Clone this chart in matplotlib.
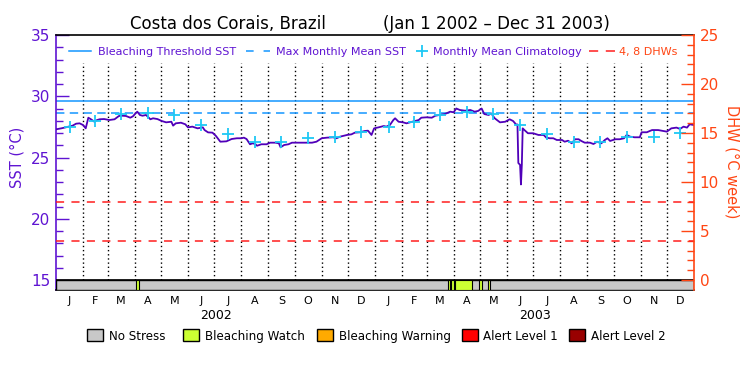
import numpy as np
import matplotlib.pyplot as plt
from matplotlib.lines import Line2D
from matplotlib.patches import Rectangle

# daily SST (days since Jan 1 2002)
sst_day = [0, 6, 11, 19, 23, 27, 31, 34, 37, 40, 44, 47, 50, 55, 61, 67, 72, 76, 80, 85,
           88, 91, 93, 96, 99, 103, 108, 111, 116, 121, 126, 132, 134, 137, 143, 148, 151,
           156, 162, 168, 170, 174, 179, 183, 188, 195, 201, 207, 212, 215, 218, 222, 225,
           228, 230, 235, 241, 245, 251, 255, 257, 261, 266, 270, 275, 281, 287, 293, 298,
           304, 310, 317, 321, 325, 333, 338, 342, 348, 353, 357, 361, 364, 369, 375, 378,
           382, 386, 388, 392, 397, 401, 405, 411, 415, 418, 424, 430, 434, 439, 445, 451,
           455, 458, 462, 468, 474, 479, 483, 487, 490, 495, 498, 502, 508, 514, 519, 523,
           527, 528, 529, 531, 532, 533, 534, 536, 540, 546, 552, 558, 561, 565, 569, 573,
           579, 582, 586, 590, 594, 598, 601, 605, 611, 615, 619, 624, 628, 631, 634, 640,
           645, 650, 653, 657, 662, 668, 670, 676, 682, 689, 695, 699, 704, 710, 714, 718,
           722, 725, 730]
sst_val = [27.30, 27.38, 27.46, 27.60, 27.76, 27.79, 27.65, 27.38, 28.25, 28.12, 27.92, 28.06,
           28.12, 28.14, 28.06, 28.12, 28.39, 28.41, 28.39, 28.25, 28.36, 28.60, 28.74, 28.47,
           28.41, 28.47, 28.12, 28.20, 28.14, 27.98, 27.87, 27.92, 27.60, 27.79, 27.84, 27.71,
           27.46, 27.52, 27.38, 27.46, 27.24, 27.05, 27.03, 26.76, 26.29, 26.32, 26.51, 26.57,
           26.57, 26.62, 26.51, 26.08, 26.16, 26.10, 25.96, 26.08, 26.08, 26.21, 26.21, 26.16,
           25.83, 26.02, 26.08, 26.21, 26.21, 26.21, 26.21, 26.21, 26.29, 26.57, 26.62, 26.65,
           26.57, 26.70, 26.84, 26.89, 27.03, 27.06, 27.16, 27.19, 26.84, 27.38, 27.46, 27.57,
           27.52, 27.65, 28.06, 28.20, 27.92, 27.87, 27.79, 27.87, 27.98, 28.06, 28.25, 28.28,
           28.25, 28.41, 28.47, 28.55, 28.74, 28.69, 29.00, 28.88, 28.82, 28.88, 28.74, 28.80,
           29.00, 28.55, 28.47, 28.60, 28.20, 27.87, 27.92, 28.12, 27.98, 27.65, 27.70, 24.55,
           24.40, 22.80, 24.40, 27.38, 27.24, 26.98, 26.98, 26.84, 26.84, 26.62, 26.57, 26.57,
           26.43, 26.43, 26.29, 26.37, 26.16, 26.49, 26.49, 26.35, 26.21, 26.21, 26.10, 26.29,
           26.16, 26.43, 26.57, 26.35, 26.49, 26.49, 26.57, 26.84, 26.70, 26.65, 26.65, 27.06,
           27.06, 27.24, 27.24, 27.16, 27.11, 27.38, 27.44, 27.33, 27.52, 27.44, 27.71, 27.65]

# monthly mean climatology, Jan 2002 .. Dec 2003
clim_val = [27.46, 28.00, 28.53, 28.66, 28.44, 27.65, 26.89, 26.24, 26.24, 26.62, 26.70, 27.06,
            27.46, 27.92, 28.47, 28.69, 28.55, 27.65, 26.89, 26.29, 26.24, 26.65, 26.70, 27.03]

mmm = 28.65
threshold = 29.65
dhw_levels = [4, 8]

# bleaching watch periods in the status bar (days since Jan 1 2002)
watch_start = [92, 448, 452.5, 456, 484, 494]
watch_end = [95.5, 451, 455, 476.5, 487.5, 497]

month_labels = list('JFMAMJJASOND') * 2
year_labels = ['2002', '2003']

status_names = ['No Stress', 'Bleaching Watch', 'Bleaching Warning', 'Alert Level 1', 'Alert Level 2']
status_colors = ['#c8c8c8', '#ccff33', '#ffaa00', '#ff0000', '#990000']

purple = '#5f14d2'
line_purple = '#5000b9'
blue = '#1496ff'
cyan = '#1ec8f5'
red = '#ff1e1e'
orange = '#ff4614'

months = np.arange('2002-01', '2004-01', dtype='datetime64[M]')
month_start = (months.astype('datetime64[D]') - np.datetime64('2002-01-01')).astype(int)
month_end = np.append(month_start[1:], 730)
month_mid = (month_start + month_end) / 2.0


def fx(x):
    return x / 750.0


def fy(y):
    return 1 - y / 375.0


fig = plt.figure(figsize=(7.5, 3.75), dpi=100)
ax = fig.add_axes([fx(56), fy(290), 638 / 750, 255 / 375])
ybot = 15 - 10 / 12.25
ax.set_xlim(0, 730)
ax.set_ylim(ybot, 35)

# month dividers
ax.vlines(month_start[1:], 15, 32.7, colors='black', linestyles=(0, (1, 2)), lw=1, zorder=1)

ax.axhline(threshold, color=blue, lw=1.1, zorder=2)
ax.axhline(mmm, color=blue, lw=1.1, dashes=(5.5, 3.5), zorder=2)
ax.plot(sst_day, sst_val, color=line_purple, lw=1.3, zorder=4)
ax.plot(month_mid, clim_val, '+', color=cyan, ms=8, mew=1.3, zorder=5)

# status bar
ax.bar(0, 15 - ybot, width=730, bottom=ybot, align='edge', color=status_colors[0],
       edgecolor='black', lw=1, zorder=3)
ax.bar(watch_start, 15 - ybot, width=np.subtract(watch_end, watch_start), bottom=ybot,
       align='edge', color=status_colors[1], edgecolor='black', lw=0.8, zorder=3)
ax.axhline(15, color='black', lw=1.2, zorder=3)

ax.set_yticks([15, 20, 25, 30, 35])
ax.set_yticks([v for v in range(15, 36) if v % 5], minor=True)
ax.tick_params(axis='y', which='both', direction='in', color=purple, labelcolor=purple,
               width=1, labelsize=11, pad=4)
ax.tick_params(axis='y', which='major', length=9.5)
ax.tick_params(axis='y', which='minor', length=4.8)
ax.set_xticks(month_mid)
ax.set_xticklabels(month_labels)
ax.tick_params(axis='x', length=0, labelsize=8, pad=4)

ax.spines['left'].set_color(purple)
ax.spines['right'].set_visible(False)
for s in ['left', 'top', 'bottom']:
    ax.spines[s].set_linewidth(1.2)

ax2 = ax.twinx()
ax2.set_ylim((ybot - 15) * 1.25, 25)
for lvl in dhw_levels:
    ax2.axhline(lvl, color=red, lw=1.1, dashes=(5.3, 4.8), zorder=2)
ax2.set_yticks(range(0, 26, 5))
ax2.set_yticks([v for v in range(0, 26) if v % 5], minor=True)
ax2.tick_params(axis='y', which='both', direction='in', color=orange, labelcolor=orange,
                width=1, labelsize=11, pad=4)
ax2.tick_params(axis='y', which='major', length=9.5)
ax2.tick_params(axis='y', which='minor', length=4.8)
for s in ['left', 'top', 'bottom']:
    ax2.spines[s].set_visible(False)
ax2.spines['right'].set_color(orange)
ax2.spines['right'].set_linewidth(1.2)

# titles and axis labels
fig.text(fx(228), fy(29), 'Costa dos Corais, Brazil', ha='center', va='baseline', fontsize=12)
fig.text(fx(496.5), fy(29), '(Jan 1 2002 \u2013 Dec 31 2003)', ha='center', va='baseline', fontsize=12)
fig.text(fx(17.5), fy(157), 'SST (°C)', rotation=90, ha='center', va='center', color=purple, fontsize=10.5)
fig.text(fx(731.7), fy(161.5), 'DHW (°C week)', rotation=270, ha='center', va='center', color=orange, fontsize=10.5)
for lab, xc in zip(year_labels, [216, 535.5]):
    fig.text(fx(xc), fy(319.3), lab, ha='center', va='baseline', fontsize=9)

# top legend
fig.add_artist(Line2D([fx(69), fx(90.6)], [fy(51)] * 2, transform=fig.transFigure, color=blue, lw=1.1))
fig.text(fx(97.7), fy(55), 'Bleaching Threshold SST', color=purple, fontsize=8, va='baseline')
fig.add_artist(Line2D([fx(246), fx(270)], [fy(51)] * 2, transform=fig.transFigure, color=blue, lw=1.1,
                      dashes=(5, 6.5)))
fig.text(fx(276), fy(55), 'Max Monthly Mean SST', color=purple, fontsize=8, va='baseline')
fig.add_artist(Line2D([fx(422)], [fy(51)], transform=fig.transFigure, color=cyan, marker='+',
                      ms=8, mew=1.3, ls='none'))
fig.text(fx(433), fy(55), 'Monthly Mean Climatology', color=purple, fontsize=8, va='baseline')
fig.add_artist(Line2D([fx(588.6), fx(615)], [fy(51)] * 2, transform=fig.transFigure, color=red, lw=1.1,
                      dashes=(6, 5)))
fig.text(fx(618.7), fy(55), '4, 8 DHWs', color=orange, fontsize=8, va='baseline')

# status legend
box_x = [87.3, 183.3, 317.3, 461.7, 569.3]
for bx, name, col in zip(box_x, status_names, status_colors):
    fig.add_artist(Rectangle((fx(bx), fy(340.7)), 16 / 750, 11.4 / 375, transform=fig.transFigure,
                             facecolor=col, edgecolor='black', lw=1))
    fig.text(fx(bx + 21.5), fy(340), name, fontsize=8.6, va='baseline')

fig.savefig('out.png', dpi=100)
